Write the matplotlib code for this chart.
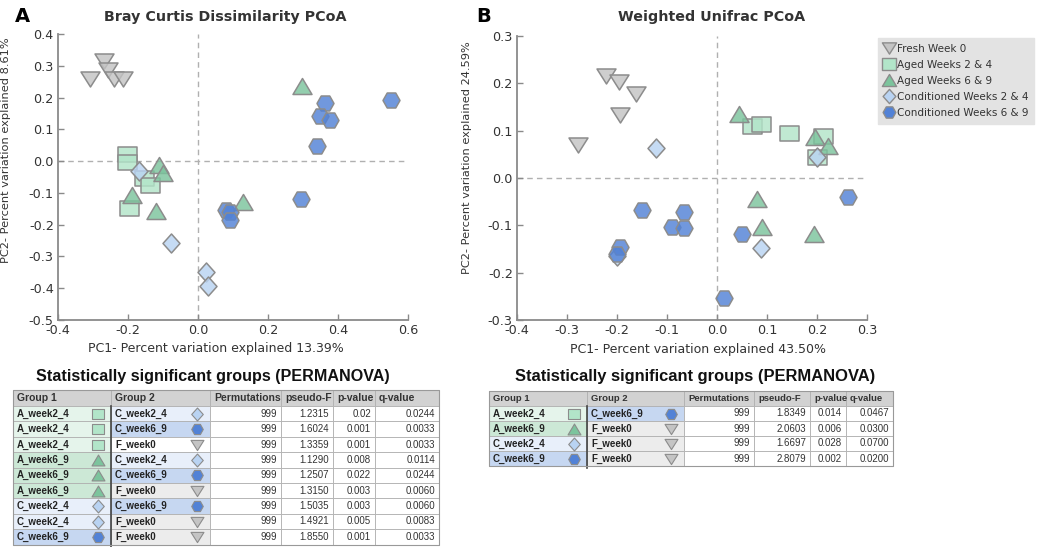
import numpy as np
import matplotlib
matplotlib.use("Agg")
import matplotlib.pyplot as plt
from matplotlib.path import Path
from matplotlib.lines import Line2D
from matplotlib.colors import to_rgba
from matplotlib.patches import Rectangle

plt.rcParams["axes.unicode_minus"] = False
plt.rcParams["font.family"] = ["DejaVu Sans"]
TF = ["Liberation Sans", "DejaVu Sans"]   # table font

# ---- PCoA coordinates ----
# A: Bray Curtis
fresh_a_x = [-0.310, -0.270, -0.257, -0.240, -0.215]
fresh_a_y = [0.258, 0.314, 0.286, 0.258, 0.258]
aged24_a_x = [-0.203, -0.203, -0.154, -0.137, -0.197]
aged24_a_y = [0.022, -0.003, -0.053, -0.075, -0.148]
aged69_a_x = [-0.111, -0.100, -0.189, -0.120, 0.129, 0.297]
aged69_a_y = [-0.012, -0.038, -0.108, -0.156, -0.128, 0.236]
cond24_a_x = [-0.169, -0.077, 0.023, 0.029]
cond24_a_y = [-0.030, -0.258, -0.349, -0.393]
cond69_a_x = [0.363, 0.349, 0.377, 0.340, 0.551, 0.294, 0.080, 0.091, 0.091]
cond69_a_y = [0.182, 0.141, 0.129, 0.048, 0.192, -0.118, -0.154, -0.160, -0.184]

# B: Weighted Unifrac
fresh_b_x = [-0.222, -0.196, -0.162, -0.194, -0.278]
fresh_b_y = [0.215, 0.202, 0.177, 0.133, 0.070]
aged24_b_x = [0.070, 0.088, 0.144, 0.212, 0.200]
aged24_b_y = [0.109, 0.114, 0.095, 0.088, 0.044]
aged69_b_x = [0.044, 0.196, 0.222, 0.080, 0.090, 0.193]
aged69_b_y = [0.135, 0.086, 0.067, -0.044, -0.104, -0.118]
cond24_b_x = [-0.122, 0.200, 0.088, -0.200]
cond24_b_y = [0.063, 0.044, -0.148, -0.165]
cond69_b_x = [-0.150, -0.066, -0.090, -0.066, -0.195, -0.200, 0.014, 0.050, 0.261]
cond69_b_y = [-0.067, -0.072, -0.103, -0.105, -0.145, -0.160, -0.253, -0.118, -0.040]

groups = ["fresh", "aged24", "aged69", "cond24", "cond69"]
group_labels = ["Fresh Week 0", "Aged Weeks 2 & 4", "Aged Weeks 6 & 9",
                "Conditioned Weeks 2 & 4", "Conditioned Weeks 6 & 9"]

# ---- PERMANOVA tables ----
headers = ["Group 1", "Group 2", "Permutations", "pseudo-F", "p-value", "q-value"]
g1_a = ["A_week2_4", "A_week2_4", "A_week2_4", "A_week6_9", "A_week6_9", "A_week6_9",
        "C_week2_4", "C_week2_4", "C_week6_9"]
g2_a = ["C_week2_4", "C_week6_9", "F_week0", "C_week2_4", "C_week6_9", "F_week0",
        "C_week6_9", "F_week0", "F_week0"]
perm_a = [999, 999, 999, 999, 999, 999, 999, 999, 999]
pseudo_a = [1.2315, 1.6024, 1.3359, 1.1290, 1.2507, 1.3150, 1.5035, 1.4921, 1.8550]
p_a = [0.02, 0.001, 0.001, 0.008, 0.022, 0.003, 0.003, 0.005, 0.001]
q_a = [0.0244, 0.0033, 0.0033, 0.0114, 0.0244, 0.0060, 0.0060, 0.0083, 0.0033]

g1_b = ["A_week2_4", "A_week6_9", "C_week2_4", "C_week6_9"]
g2_b = ["C_week6_9", "F_week0", "F_week0", "F_week0"]
perm_b = [999, 999, 999, 999]
pseudo_b = [1.8349, 2.0603, 1.6697, 2.8079]
p_b = [0.014, 0.006, 0.028, 0.002]
q_b = [0.0467, 0.0300, 0.0700, 0.0200]

# ---- styles ----
face = {"fresh": "#c4c4c4", "aged24": "#b2e5c9", "aged69": "#7cc49d",
        "cond24": "#b9d3f2", "cond69": "#5282d6"}
shape_of = {"fresh": ("v", 19, 15), "aged24": ("s", 19, 15), "aged69": ("^", 19, 16),
            "cond24": ("d", 17, 19), "cond69": ("h", 17, 15)}
cell_fill = {"A_week2_4": "#e5f4eb", "A_week6_9": "#cce8d6", "C_week2_4": "#e8effa",
             "C_week6_9": "#c6d7f1", "F_week0": "#ececec"}
name_group = {"A_week2_4": "aged24", "A_week6_9": "aged69", "C_week2_4": "cond24",
              "C_week6_9": "cond69", "F_week0": "fresh"}
EDGE = "#8c8c8c"


def marker(g, scale=1.0):
    kind, w, h = shape_of[g]
    a, b = w * scale / 2, h * scale / 2
    if kind == "v":
        v = [(-a, b), (a, b), (0, -b)]
    elif kind == "^":
        v = [(-a, -b), (a, -b), (0, b)]
    elif kind == "s":
        v = [(-a, -b), (a, -b), (a, b), (-a, b)]
    elif kind == "d":
        v = [(0, -b), (a, 0), (0, b), (-a, 0)]
    else:
        v = [(-a, 0), (-a / 2, -b), (a / 2, -b), (a, 0), (a / 2, b), (-a / 2, b)]
    p = Path(np.array(v + [v[0]]), closed=True)
    return p, max(a, b) * 2 * 0.72


W, H = 1039, 547
fig = plt.figure(figsize=(W / 100, H / 100), dpi=100)


def px_axes(x0, y0, x1, y1):
    return fig.add_axes([x0 / W, 1 - y1 / H, (x1 - x0) / W, (y1 - y0) / H])


ov = fig.add_axes([0, 0, 1, 1])
ov.set_xlim(0, W)
ov.set_ylim(H, 0)
ov.axis("off")

ax_a = px_axes(58, 34, 408, 320)
ax_b = px_axes(517, 36, 867, 320)


def fmt(x, pos):
    return f"{round(x, 1) + 0.0:.1f}"


def pcoa(ax, data, xlim, ylim, step):
    for g in groups:
        xs, ys = data[g]
        p, ms = marker(g)
        ax.scatter(xs, ys, marker=p, s=ms ** 2, facecolor=to_rgba(face[g], 0.82),
                   edgecolor=EDGE, linewidths=1.1, zorder=3)
    ax.axhline(0, color="#b0b0b0", lw=1, ls=(0, (4, 3)), zorder=1)
    ax.axvline(0, color="#b0b0b0", lw=1, ls=(0, (4, 3)), zorder=1)
    ax.set_xlim(*xlim)
    ax.set_ylim(*ylim)
    ax.set_xticks(np.round(np.arange(xlim[0], xlim[1] + 1e-9, step[0]), 2))
    ax.set_yticks(np.round(np.arange(ylim[0], ylim[1] + 1e-9, step[1]), 2))
    ax.xaxis.set_major_formatter(fmt)
    ax.yaxis.set_major_formatter(fmt)
    for s in ["top", "right"]:
        ax.spines[s].set_visible(False)
    for s in ["left", "bottom"]:
        ax.spines[s].set_color("#8a8a8a")
        ax.spines[s].set_linewidth(1.3)
    ax.tick_params(direction="in", length=4, width=1, color="#8a8a8a",
                   labelsize=9.2, labelcolor="#333333", pad=3)
    ax.patch.set_alpha(0)


pcoa(ax_a, {"fresh": (fresh_a_x, fresh_a_y), "aged24": (aged24_a_x, aged24_a_y),
            "aged69": (aged69_a_x, aged69_a_y), "cond24": (cond24_a_x, cond24_a_y),
            "cond69": (cond69_a_x, cond69_a_y)}, (-0.4, 0.6), (-0.5, 0.4), (0.2, 0.1))
pcoa(ax_b, {"fresh": (fresh_b_x, fresh_b_y), "aged24": (aged24_b_x, aged24_b_y),
            "aged69": (aged69_b_x, aged69_b_y), "cond24": (cond24_b_x, cond24_b_y),
            "cond69": (cond69_b_x, cond69_b_y)}, (-0.4, 0.3), (-0.3, 0.3), (0.1, 0.1))

ax_a.set_xlabel("PC1- Percent variation explained 13.39%", fontsize=9, color="#333333")
ax_a.xaxis.set_label_coords(0.451, -0.077)
ax_a.set_ylabel("PC2- Percent variation explained 8.61%", fontsize=8.2, color="#333333")
ax_a.yaxis.set_label_coords(-0.134, 0.594)
ax_b.set_xlabel("PC1- Percent variation explained 43.50%", fontsize=9, color="#333333")
ax_b.xaxis.set_label_coords(0.516, -0.08)
ax_b.set_ylabel("PC2- Percent variation explained 24.59%", fontsize=8.2, color="#333333")
ax_b.yaxis.set_label_coords(-0.129, 0.57)

ov.text(22, 17, "A", fontsize=14, fontweight="bold", ha="center", va="center")
ov.text(484, 17, "B", fontsize=14, fontweight="bold", ha="center", va="center")
ov.text(225, 17, "Bray Curtis Dissimilarity PCoA", fontsize=10.3, fontweight="bold",
        color="#333333", ha="center", va="center")
ov.text(712, 17, "Weighted Unifrac PCoA", fontsize=10.3, fontweight="bold",
        color="#333333", ha="center", va="center")

handles = []
for g in groups:
    p, ms = marker(g, 0.75)
    handles.append(Line2D([], [], marker=p, ms=ms, ls="none", markerfacecolor=face[g],
                          markeredgecolor=EDGE, markeredgewidth=1))
leg = ax_b.legend(handles, group_labels, loc="upper left", bbox_to_anchor=(878 / W, 1 - 38 / H),
                  bbox_transform=fig.transFigure, frameon=True, fancybox=False,
                  facecolor="#e3e3e3", edgecolor="#e3e3e3", framealpha=1, fontsize=7.5,
                  handlelength=1.0, handletextpad=0.25, borderpad=0.55, labelspacing=0.58,
                  borderaxespad=0)
for t in leg.get_texts():
    t.set_color("#333333")


def draw_table(cols, top, head_h, row_h, g1, g2, perm, pseudo, p, q, white=(), hsize=6.9):
    for i, h in enumerate(headers):
        ov.add_patch(Rectangle((cols[i], top), cols[i + 1] - cols[i], head_h,
                               fc="#d2d2d2", ec="#b0b0b0", lw=0.6))
        ov.text(cols[i] + 4, top + head_h / 2, h, fontsize=hsize, fontweight="bold",
                family=TF, color="#333333", ha="left", va="center")
    for r in range(len(g1)):
        y = top + head_h + r * row_h
        yc = y + row_h / 2
        for c, name in ((0, g1[r]), (1, g2[r])):
            fc = "white" if (c == 1 and r in white) else cell_fill[name]
            ov.add_patch(Rectangle((cols[c], y), cols[c + 1] - cols[c], row_h,
                                   fc=fc, ec="#b0b0b0", lw=0.6))
            ov.text(cols[c] + 4, yc, name, fontsize=7, fontweight="bold", family=TF,
                    color="#222222", ha="left", va="center")
            g = name_group[name]
            mp, ms = marker(g, 0.68)
            ov.scatter([cols[c + 1] - 13], [yc], marker=mp, s=ms ** 2, facecolor=face[g],
                       edgecolor=EDGE, linewidths=0.8, zorder=4)
        vals = [str(perm[r]), f"{pseudo[r]:.4f}", f"{p[r]:g}", f"{q[r]:.4f}"]
        for k, v in enumerate(vals):
            c = k + 2
            ov.add_patch(Rectangle((cols[c], y), cols[c + 1] - cols[c], row_h,
                                   fc="white", ec="#b0b0b0", lw=0.6))
            ov.text(cols[c + 1] - 4, yc, v, fontsize=7, family=TF, color="#333333",
                    ha="right", va="center")
    bottom = top + head_h + len(g1) * row_h
    ov.plot([cols[1], cols[1]], [top + head_h, bottom + 2], color="#444444", lw=1.2, zorder=5)
    ov.add_patch(Rectangle((cols[0], top), cols[-1] - cols[0], bottom - top,
                           fc="none", ec="#999999", lw=0.8, zorder=5))


ov.text(213, 377, "Statistically significant groups (PERMANOVA)", fontsize=11.6,
        fontweight="bold", family=TF, color="#111111", ha="center", va="center")
draw_table([13, 111, 210, 281, 333, 375, 439], 390, 16, 15.4,
           g1_a, g2_a, perm_a, pseudo_a, p_a, q_a, white=(2,), hsize=7.5)

ov.text(695, 377, "Statistically significant groups (PERMANOVA)", fontsize=11.9,
        fontweight="bold", family=TF, color="#111111", ha="center", va="center")
draw_table([489, 587, 684, 754, 810, 846, 893], 391, 15, 15,
           g1_b, g2_b, perm_b, pseudo_b, p_b, q_b, hsize=6.8)

fig.savefig("out.png", dpi=100)
